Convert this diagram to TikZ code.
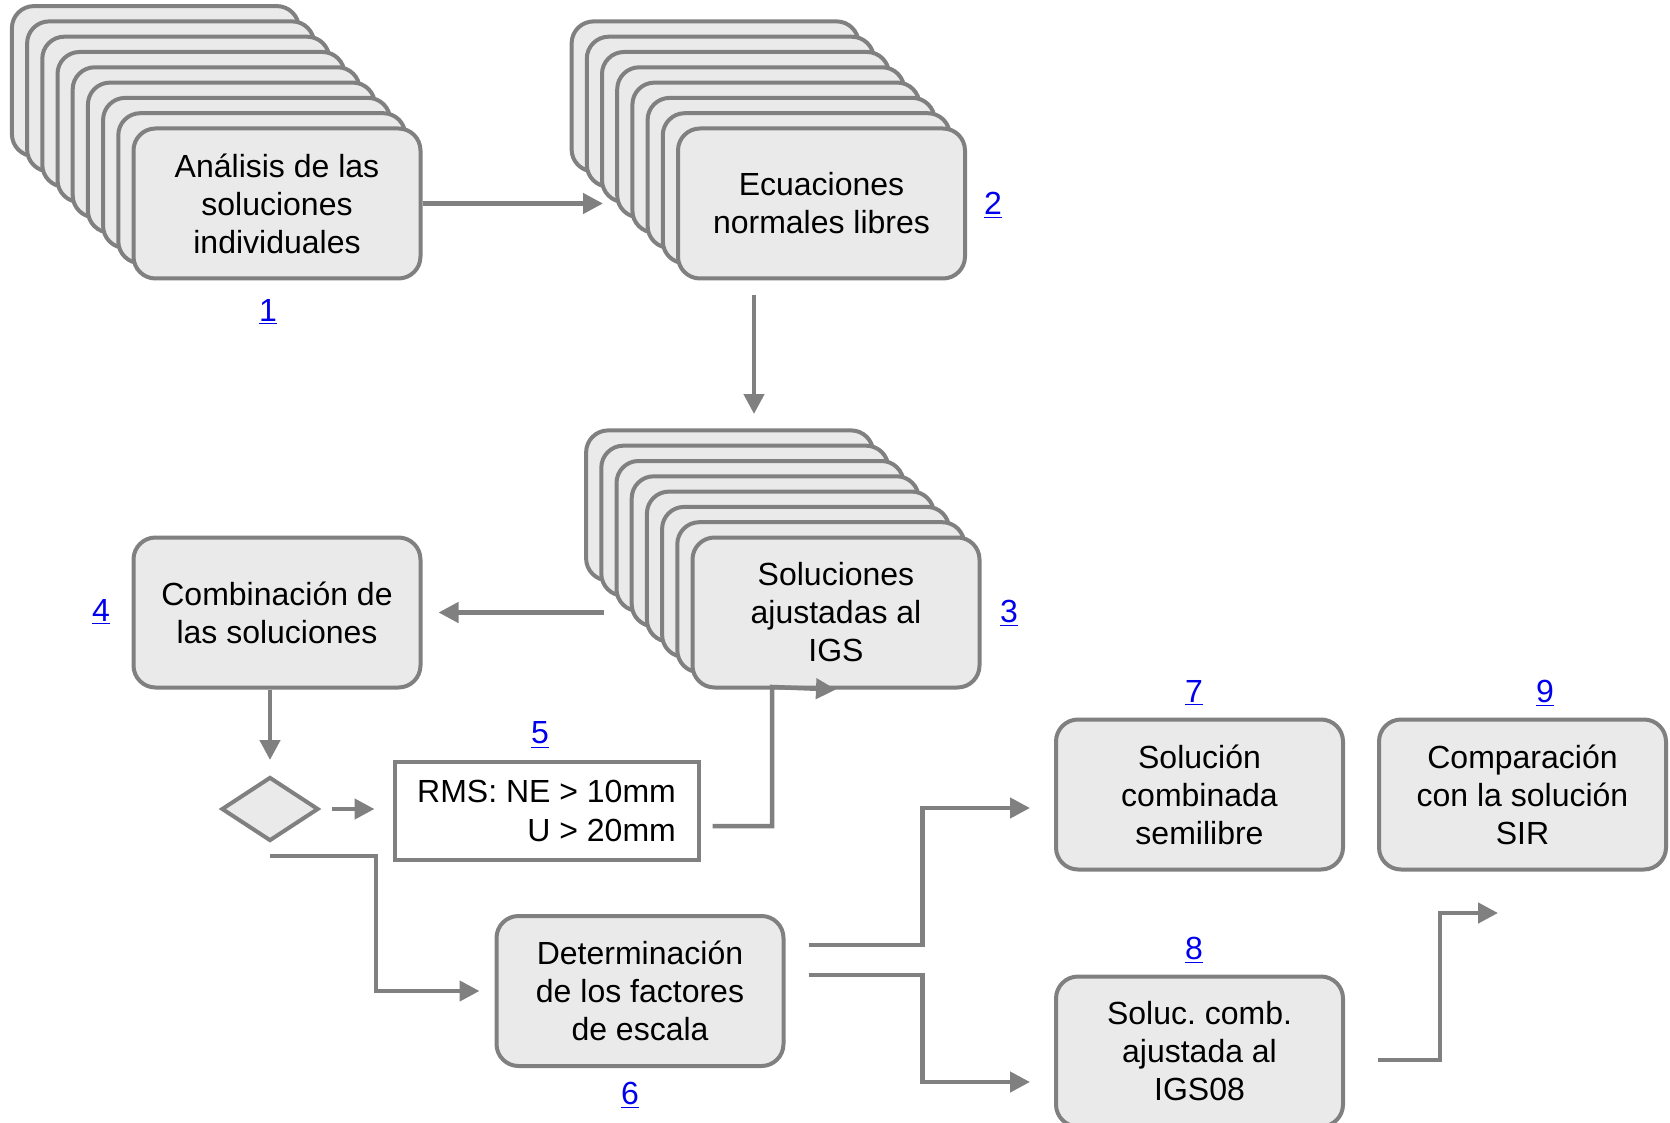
\documentclass[tikz,border=0pt]{standalone}
\usepackage{fontspec}
\setmainfont{Liberation Sans}
\usetikzlibrary{arrows.meta,shapes.geometric,calc}
\definecolor{linegray}{HTML}{808080}
\definecolor{boxfill}{HTML}{EAEAEA}
\definecolor{linkblue}{HTML}{0000EE}
\begin{document}
\begin{tikzpicture}[x=0.5pt,y=-0.5pt,
  box/.style={draw=linegray, fill=boxfill, line width=2pt, rounded corners=11pt,
    minimum width=143.5pt, minimum height=75pt, align=center, inner sep=0pt,
    font=\fontsize{16}{19}\selectfont\frenchspacing},
  conn/.style={draw=linegray, line width=2.25pt, -{Triangle[length=10pt,width=10pt]}},
  lbl/.style={text=linkblue, font=\fontsize{16}{19}\selectfont, inner sep=0pt},
  decision/.style={diamond, draw=linegray, fill=boxfill, line width=2pt,
    minimum width=48.5pt, minimum height=32pt, inner sep=0pt},
  rulebox/.style={draw=linegray, fill=white, line width=2pt,
    align=right, inner xsep=0pt, minimum width=152pt, minimum height=49pt,
    font=\fontsize{16}{19.5}\selectfont\frenchspacing}
]
\useasboundingbox (0,0) rectangle (1670,1123);

% stack 1
\foreach \i in {8,7,...,1} {
  \node[box] (s1b\i) at ({277-15.2*\i},{203.5-15.3*\i}) {};
}
\node[box] (s1) at (277,203.5) {Análisis de las\\soluciones\\individuales};

% stack 2
\foreach \i in {7,6,...,1} {
  \node[box] (s2b\i) at ({821.5-15.2*\i},{203.5-15.3*\i}) {};
}
\node[box] (s2) at (821.5,203.5) {Ecuaciones\\normales libres};

% stack 3
\foreach \i in {7,6,...,1} {
  \node[box] (s3b\i) at ({836-15.2*\i},{612.5-15.3*\i}) {};
}
\node[box] (s3) at (836,612.5) {Soluciones\\ajustadas al\\IGS};

% single boxes
\node[box] (b4) at (277,612.5) {Combinación de\\las soluciones};
\node[box] (b6) at (640,991) {Determinación\\de los factores\\de escala};
\node[box] (b7) at (1199.5,794.5) {Solución\\combinada\\semilibre};
\node[box] (b9) at (1522.5,794.5) {Comparación\\con la solución\\SIR};
\node[box] (b8) at (1199.5,1051.5) {Soluc. comb.\\ajustada al\\IGS08};

\node[decision] (dia) at (270,809) {};
\node[rulebox] (r5) at (546.5,811) {RMS: NE > 10mm\\U > 20mm};

% labels
\node[lbl] (n1) at (268,312) {\underline{1}};
\node[lbl] (n2) at (993,205) {\underline{2}};
\node[lbl] (n3) at (1009,613) {\underline{3}};
\node[lbl] (n4) at (101,612) {\underline{4}};
\node[lbl] (n5) at (540,735) {\underline{5}};
\node[lbl] (n6) at (630,1095) {\underline{6}};
\node[lbl] (n7) at (1194,693) {\underline{7}};
\node[lbl] (n8) at (1194,950) {\underline{8}};
\node[lbl] (n9) at (1545,693) {\underline{9}};

% free ends
\coordinate (tA) at (603,203.5);
\coordinate (bA) at (754,295);
\coordinate (bB) at (754,414);
\coordinate (cA) at (604,612.5);
\coordinate (fA) at (772,687);
\coordinate (jT) at (1498,913);

% connectors
\draw[conn] (s1.east) -- (tA);
\draw[conn] (bA) -- (bB);
\draw[conn, shorten >=8pt] (cA) -- (b4.east);
\draw[conn] (b4.south -| dia.north) -- ($(dia.north)+(0,7.5pt)$);
\draw[conn] ($(dia.east)+(5.75pt,0)$) -- ($(dia.east -| r5.west)+(-9pt,0)$);
\draw[conn] ($(r5.east)+(6pt,-7.5pt)$) -| (fA) -- (s3.south);
\draw[conn] ($(dia.south)+(0,-6.5pt)$) -- ++(53pt,0) |- ($(b6.west)+(-7.5pt,0)$);
\draw[conn] ($(b6.east)+(11.5pt,23pt)$) -- ++(57pt,0) |- ($(b7.west)+(-12pt,-6.75pt)$);
\draw[conn] ($(b6.east)+(11.5pt,8pt)$) -- ++(57pt,0) |- ($(b8.west)+(-12pt,-15.25pt)$);
\draw[conn] ($(b8.east)+(16.5pt,-4.25pt)$) -- ++(31pt,0) |- (jT);
\end{tikzpicture}
\end{document}
